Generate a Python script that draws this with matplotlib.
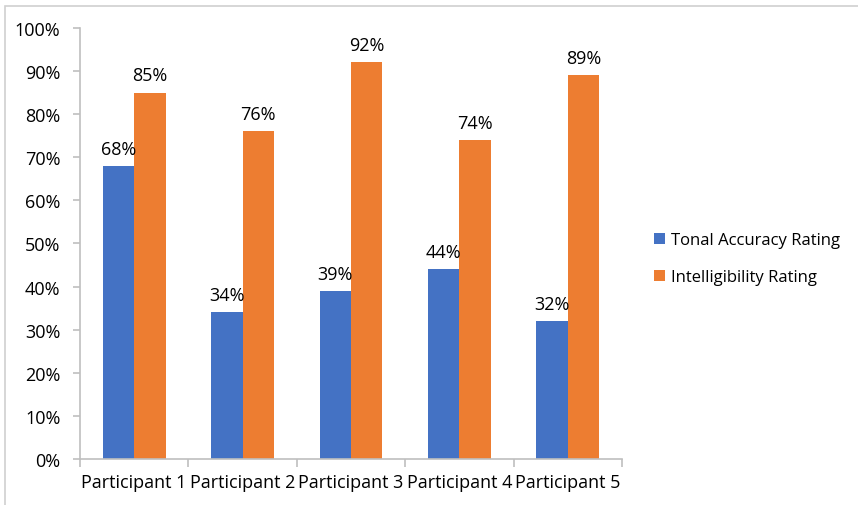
import numpy as np
import matplotlib.pyplot as plt
from matplotlib.patches import Rectangle
from matplotlib.ticker import PercentFormatter

participants = ["Participant 1", "Participant 2", "Participant 3", "Participant 4", "Participant 5"]
tonal_accuracy = [68, 34, 39, 44, 32]
intelligibility = [85, 76, 92, 74, 89]
series_names = ["Tonal Accuracy Rating", "Intelligibility Rating"]

blue = "#4472C4"
orange = "#ED7D31"
axis_grey = "#BFBFBF"

plt.rcParams["font.family"] = ["Open Sans", "DejaVu Sans"]

fig = plt.figure(figsize=(8.58, 5.06), dpi=100)
ax = fig.add_axes([0.0932, 0.0909, 0.6318, 0.8518])

x = np.arange(len(participants))
w = 0.29
b1 = ax.bar(x - w / 2, tonal_accuracy, w, color=blue, label=series_names[0])
b2 = ax.bar(x + w / 2, intelligibility, w, color=orange, label=series_names[1])

for bars, vals in ((b1, tonal_accuracy), (b2, intelligibility)):
    for rect, v in zip(bars, vals):
        ax.annotate(f"{v}%", (rect.get_x() + rect.get_width() / 2, v),
                    xytext=(0, 6), textcoords="offset points",
                    ha="center", va="bottom", fontsize=13, color="#000000")

ax.set_xlim(-0.5, len(participants) - 0.5)
ax.set_ylim(0, 100)
ax.set_yticks(np.arange(0, 101, 10))
ax.yaxis.set_major_formatter(PercentFormatter(decimals=0))

# category labels centred, tick marks on the boundaries between groups
ax.set_xticks(x)
ax.set_xticklabels(participants, fontsize=13)
ax.set_xticks(np.arange(-0.5, len(participants), 1.0), minor=True)
ax.tick_params(axis="x", which="major", length=0, pad=10)
ax.tick_params(axis="x", which="minor", length=6, color=axis_grey, width=1.2)
ax.tick_params(axis="y", length=5, color=axis_grey, width=1.2, labelsize=13, pad=9)

for side in ("top", "right"):
    ax.spines[side].set_visible(False)
for side in ("left", "bottom"):
    ax.spines[side].set_color(axis_grey)
    ax.spines[side].set_linewidth(1.2)

fig.legend(loc="center left", bbox_to_anchor=(0.745, 0.487), frameon=False,
           fontsize=12, handlelength=0.65, handleheight=0.65, handletextpad=0.35,
           labelspacing=1.25)

# outer chart frame
fig.patches.append(Rectangle((0.006, -0.05), 1.2, 1.036, transform=fig.transFigure,
                             fill=False, edgecolor="#D0D0D0", linewidth=1.2))

fig.savefig("out.png", dpi=100)
